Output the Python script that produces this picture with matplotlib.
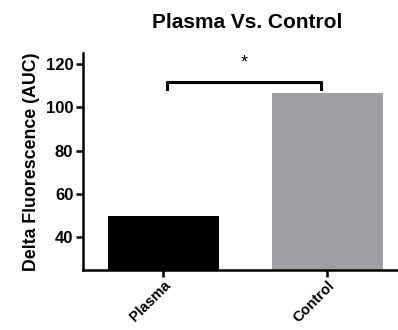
import numpy as np
import matplotlib.pyplot as plt

plt.rcParams['font.family'] = ['Liberation Sans', 'DejaVu Sans']
plt.rcParams['font.weight'] = 'bold'

groups = ["Plasma", "Control"]
values = [50.0, 106.5]
colors = ["#000000", "#a0a0a4"]
bracket_y = 111.5
bracket_drop = 3.0

fig = plt.figure(figsize=(3.98, 3.30), dpi=100)
ax = fig.add_axes([0.2085, 0.1818, 0.7915, 0.6576])

x = np.arange(len(groups))
ax.bar(x, values, width=0.68, color=colors, bottom=0)

ax.set_xlim(-0.49, 1.43)
ax.set_ylim(25, 125)
ax.set_yticks([40, 60, 80, 100, 120])
ax.set_xticks(x)
ax.set_xticklabels(groups, rotation=45, ha='right', rotation_mode='anchor', fontsize=10.5)
ax.tick_params(axis='y', labelsize=12, width=1.8, length=5, pad=2)
ax.tick_params(axis='x', width=1.8, length=5, pad=1)
ax.set_ylabel("Delta Fluorescence (AUC)", fontsize=12.8, fontweight='bold', labelpad=4)
ax.spines['top'].set_visible(False)
ax.spines['right'].set_visible(False)
for s in ['left', 'bottom']:
    ax.spines[s].set_linewidth(1.8)

# significance bracket
x1, x2 = 0.02, 0.96
ax.plot([x1, x1, x2, x2], [bracket_y - bracket_drop, bracket_y, bracket_y, bracket_y - bracket_drop],
        color='black', lw=2.2, clip_on=False)
ax.text((x1 + x2) / 2, bracket_y + 5, "*", ha='center', va='bottom', fontsize=13, fontweight='normal')

fig.suptitle("Plasma Vs. Control", x=0.62, y=0.96, fontsize=15, fontweight='bold')

fig.savefig("out.png", dpi=100)
